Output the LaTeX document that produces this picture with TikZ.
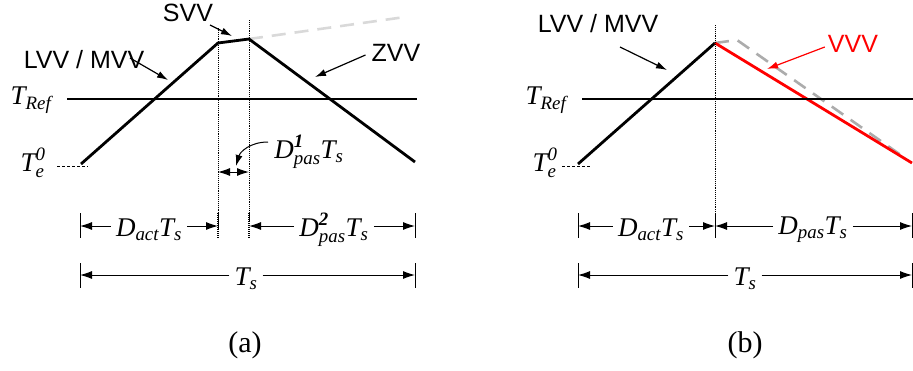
\documentclass[tikz,border=0pt]{standalone}
\usepackage{amsmath}
\usepackage{fontspec}
\setmainfont{Liberation Serif}
\newfontfamily\arialf{Liberation Sans}
\usetikzlibrary{arrows.meta}
\newcommand\itx[1]{\textit{#1}}
\newcommand\bix[1]{\textbf{\textit{#1}}}

\begin{document}
\begin{tikzpicture}[x=1pt, y=-1pt,
  font=\fontsize{27}{32}\selectfont, >={Latex[length=12pt,width=8pt]},
  wave/.style={line width=2.8pt, line join=miter},
  ref/.style={line width=2.4pt},
  guide/.style={densely dotted, line width=0.9pt},
  ghost/.style={line width=2.6pt, dash pattern=on 14pt off 9pt},
  lead/.style={densely dashed, line width=0.6pt},
  dim/.style={->, line width=1pt},
  tick/.style={line width=1pt},
  lbl/.style={inner sep=5pt},
  tag/.style={font=\arialf\fontsize{25}{29}\selectfont, inner sep=0pt},
  subfig/.style={font=\fontsize{30}{34}\selectfont},
  callout/.style={-{Latex[length=11pt,width=7pt]}, line width=1.2pt}]
  \useasboundingbox (0,0) rectangle (913,370);

  % (a)
  \coordinate (a1) at (81,164);
  \coordinate (a2) at (218,43);
  \coordinate (a3) at (249,39);
  \coordinate (a4) at (415,162);
  \coordinate (a5) at (405,17);
  \draw[ghost, gray!30] (a3) -- (a5);
  \draw[wave] (a1) -- (a2) -- (a3) -- (a4);
  \coordinate (ra0) at (67,99);
  \coordinate (ra1) at (417,99);
  \draw[ref] (ra0) -- (ra1);
  \draw[guide] (218,28) -- (218,237);
  \draw[guide] (249,20) -- (249,237);

  \node (trefa) at (31,100) {$\itx{T}_{\itx{Ref}}$};
  \node (tea) at (33,163) {$\itx{T}^{\itx{0}}_{\itx{e}}$};
  \coordinate (lda) at (57,166);
  \draw[lead] (lda) -- (88,166);

  \node[tag] (svv) at (188,13) {SVV};
  \coordinate (svv0) at (210,25);
  \coordinate (svv1) at (232,36);
  \draw[callout] (svv0) -- (svv1);
  \node[tag] (lva) at (84,60) {LVV / MVV};
  \coordinate (lva0) at (130,58);
  \coordinate (lva1) at (168,80);
  \draw[callout] (lva0) -- (lva1);
  \node[tag] (zvv) at (396,53) {ZVV};
  \coordinate (zvv1) at (315,77);
  \draw[callout] (zvv.west) ++(-6,2) coordinate (zvv0) -- (zvv1);

  \node[lbl] (dp1) at (309,152) {$\itx{D}^{\bix{1}}_{\itx{pas}}\itx{T}_{\itx{s}}$};
  \coordinate (dp1a) at (268,142);
  \coordinate (dp1b) at (236,166);
  \draw[callout, line width=1pt] (dp1a) .. controls (250,142) and (240,152) .. (dp1b);
  \coordinate (sa0) at (218,172);
  \coordinate (sa1) at (249,172);
  \draw[dim, <->] (sa0) -- (sa1);

  \foreach \x in {80,415} \draw[tick] (\x,213) -- (\x,238);
  \foreach \x in {218,249} \draw[tick, densely dotted, line width=1.4pt] (\x,213) -- (\x,238);
  \foreach \x in {80,415} \draw[tick] (\x,263) -- (\x,288);
  \node[lbl] (dacta) at (149,230) {$\itx{D}_{\itx{act}}\itx{T}_{\itx{s}}$};
  \coordinate (da0) at (80,226);
  \coordinate (da1) at (218,226);
  \draw[dim] (dacta.west |- da0) -- (da0);
  \draw[dim] (dacta.east |- da1) -- (da1);
  \node[lbl] (dp2) at (334,230) {$\itx{D}^{\bix{2}}_{\itx{pas}}\itx{T}_{\itx{s}}$};
  \coordinate (dq0) at (249,226);
  \coordinate (dq1) at (415,226);
  \draw[dim] (dp2.west |- dq0) -- (dq0);
  \draw[dim] (dp2.east |- dq1) -- (dq1);
  \node[lbl] (tsa) at (246,279) {$\itx{T}_{\itx{s}}$};
  \coordinate (ts0) at (80,275);
  \coordinate (ts1) at (415,275);
  \draw[dim] (tsa.west |- ts0) -- (ts0);
  \draw[dim] (tsa.east |- ts1) -- (ts1);
  \node[subfig] (capa) at (245,345) {(a)};

  % (b)
  \coordinate (b1) at (578,164);
  \coordinate (b2) at (715,43);
  \coordinate (b3) at (912,163);
  \coordinate (b4) at (737,40);
  \coordinate (b5) at (905,158);
  \draw[ghost, gray!65] (b2) -- (b4) -- (b5);
  \draw[wave] (b1) -- (b2);
  \draw[wave, red] (b2) -- (b3);
  \coordinate (rb0) at (582,99);
  \coordinate (rb1) at (913,99);
  \draw[ref] (rb0) -- (rb1);
  \draw[guide] (715,25) -- (715,237);

  \node (trefb) at (546,100) {$\itx{T}_{\itx{Ref}}$};
  \node (teb) at (545,163) {$\itx{T}^{\itx{0}}_{\itx{e}}$};
  \coordinate (ldb) at (562,166);
  \draw[lead] (ldb) -- (590,166);

  \node[tag] (lvb) at (598,24) {LVV / MVV};
  \coordinate (lvb0) at (620,47);
  \coordinate (lvb1) at (667,70);
  \draw[callout] (lvb0) -- (lvb1);
  \node[tag, text=red] (vvv) at (853,44) {VVV};
  \coordinate (vvv1) at (767,69);
  \draw[callout, red] (vvv.west) ++(-3,3) coordinate (vvv0) -- (vvv1);

  \foreach \x in {578,715,912} \draw[tick] (\x,213) -- (\x,238);
  \foreach \x in {578,912} \draw[tick] (\x,263) -- (\x,288);
  \node[lbl] (dactb) at (651,230) {$\itx{D}_{\itx{act}}\itx{T}_{\itx{s}}$};
  \coordinate (db0) at (578,226);
  \coordinate (db1) at (715,226);
  \draw[dim] (dactb.west |- db0) -- (db0);
  \draw[dim] (dactb.east |- db1) -- (db1);
  \node[lbl] (dpb) at (813,230) {$\itx{D}_{\itx{pas}}\itx{T}_{\itx{s}}$};
  \coordinate (dr1) at (912,226);
  \draw[dim] (dpb.west |- db1) -- (db1);
  \draw[dim] (dpb.east |- dr1) -- (dr1);
  \node[lbl] (tsb) at (745,279) {$\itx{T}_{\itx{s}}$};
  \coordinate (tb0) at (578,275);
  \coordinate (tb1) at (912,275);
  \draw[dim] (tsb.west |- tb0) -- (tb0);
  \draw[dim] (tsb.east |- tb1) -- (tb1);
  \node[subfig] (capb) at (745,345) {(b)};
\end{tikzpicture}
\end{document}
